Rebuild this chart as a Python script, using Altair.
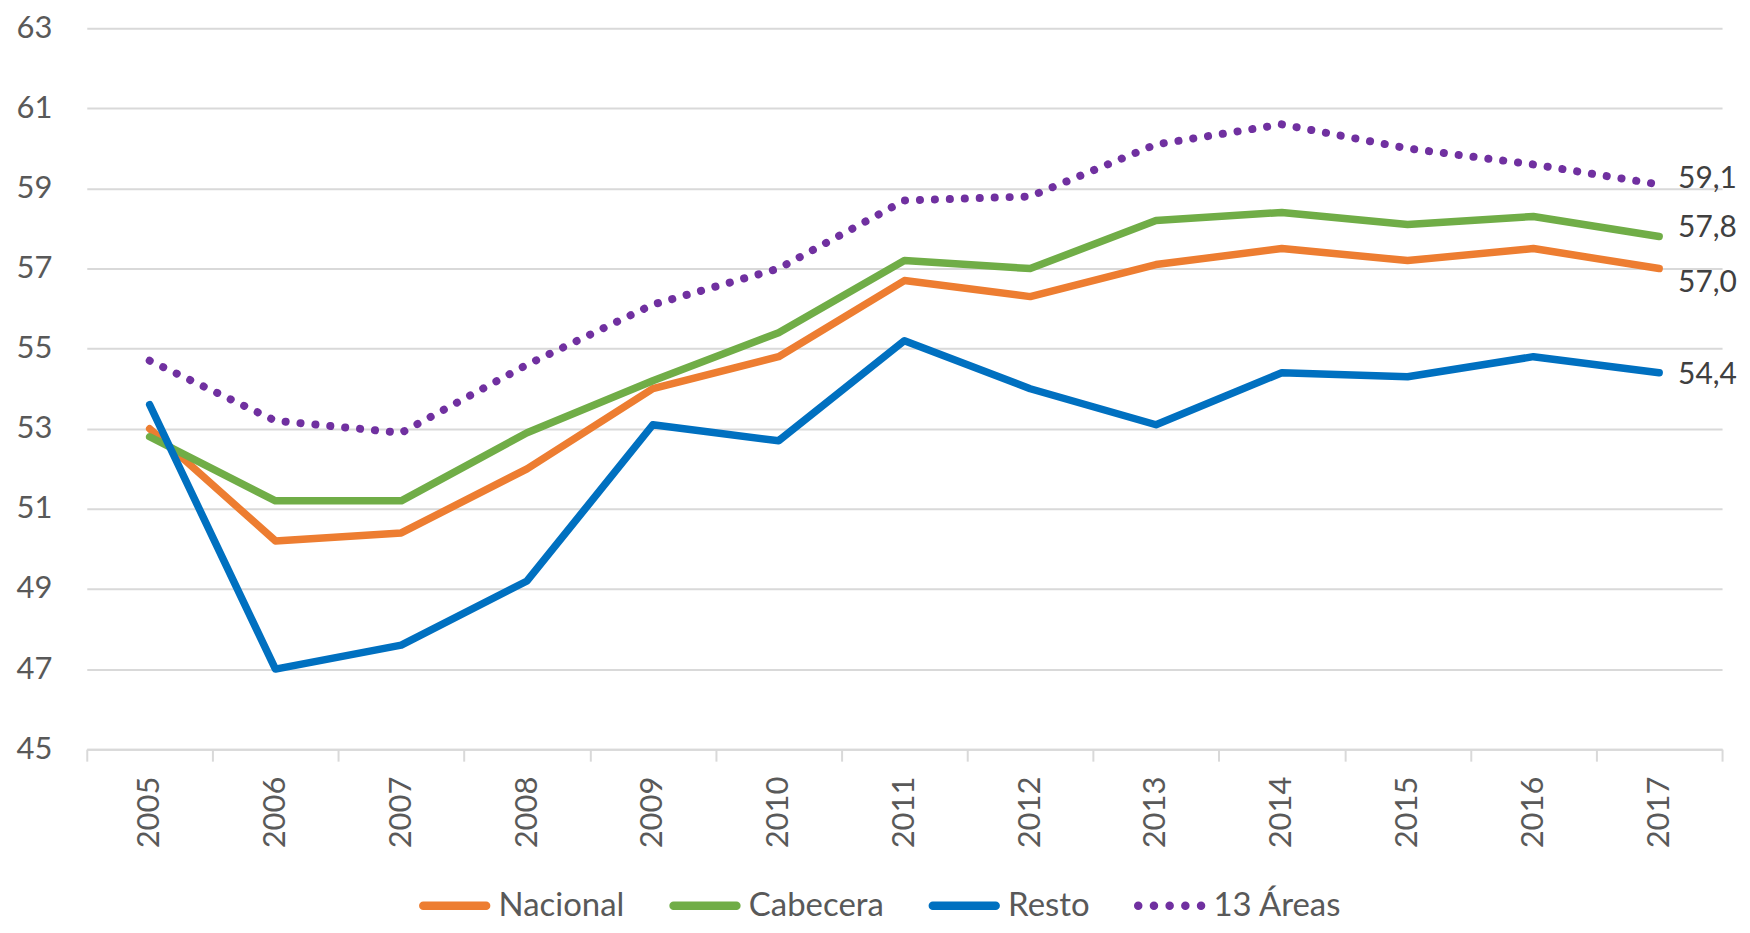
import altair as alt
import pandas as pd

# ---------------- data ----------------
years = [str(y) for y in range(2005, 2018)]
series_names = ["Nacional", "Cabecera", "Resto", "13 Áreas"]
nacional = [53.0, 50.2, 50.4, 52.0, 54.0, 54.8, 56.7, 56.3, 57.1, 57.5, 57.2, 57.5, 57.0]
cabecera = [52.8, 51.2, 51.2, 52.9, 54.2, 55.4, 57.2, 57.0, 58.2, 58.4, 58.1, 58.3, 57.8]
resto = [53.6, 47.0, 47.6, 49.2, 53.1, 52.7, 55.2, 54.0, 53.1, 54.4, 54.3, 54.8, 54.4]
areas13 = [54.7, 53.2, 52.9, 54.6, 56.1, 57.0, 58.7, 58.8, 60.1, 60.6, 60.0, 59.6, 59.1]
y_ticks = list(range(45, 64, 2))

values = {"Nacional": nacional, "Cabecera": cabecera, "Resto": resto, "13 Áreas": areas13}
rows = []
for s in series_names:
    for yr, v in zip(years, values[s]):
        rows.append({"year": yr, "series": s, "value": v})
df = pd.DataFrame(rows)

# ---------------- styles ----------------
colors = ["#ED7D31", "#70AD47", "#0070C0", "#7030A0"]
FONT = "Lato"
GRID = "#d9d9d9"
LABEL = "#595959"

solid_path = "M-0.9,-0.1H0.9A0.1,0.1,0,0,1,0.9,0.1H-0.9A0.1,0.1,0,0,1,-0.9,-0.1Z"
dot_path = " ".join(
    f"M{c-0.1:.2f},0A0.1,0.1,0,1,0,{c+0.1:.2f},0A0.1,0.1,0,1,0,{c-0.1:.2f},0Z"
    for c in [-0.9, -0.45, 0.0, 0.45, 0.9]
)
shapes = [solid_path, solid_path, solid_path, dot_path]

x_enc = alt.X(
    "year:O",
    scale=alt.Scale(type="band", paddingInner=0, paddingOuter=0, domain=years),
    axis=alt.Axis(
        title=None, labelAngle=270, tickBand="extent", grid=False,
        domainColor=GRID, domainWidth=2, tickColor=GRID, tickWidth=2, tickSize=12,
        labelPadding=15, labelFont=FONT, labelFontSize=31, labelColor=LABEL,
    ),
)
y_enc = alt.Y(
    "value:Q",
    scale=alt.Scale(domain=[45, 63], nice=False, zero=False),
    axis=alt.Axis(
        title=None, values=y_ticks, grid=True, gridColor=GRID, gridWidth=2,
        domain=False, ticks=False, tickSize=0, labelPadding=35,
        labelFont=FONT, labelFontSize=31, labelColor=LABEL,
    ),
)
color_scale = alt.Scale(domain=series_names, range=colors)

base = alt.Chart(df)

leg = alt.Legend(
    title=None, orient="none", legendX=333, legendY=844, direction="horizontal",
    symbolSize=4900, symbolOpacity=1,
    labelFont=FONT, labelFontSize=33, labelColor=LABEL, labelOffset=8,
    columnPadding=42, padding=0,
)
# legend-only layer (first, so its legend settings win): no marks drawn,
# the legend comes from the fixed scale domains
legend_layer = base.transform_filter("false").mark_point(filled=True).encode(
    x=x_enc, y=y_enc,
    color=alt.Color("series:N", scale=color_scale, legend=leg),
    shape=alt.Shape("series:N", scale=alt.Scale(domain=series_names, range=shapes), legend=leg),
)

solid = base.transform_filter(alt.datum.series != "13 Áreas").mark_line(
    strokeWidth=7.5, strokeCap="round", strokeJoin="round"
).encode(x=x_enc, y=y_enc, color=alt.Color("series:N", scale=color_scale))

dotted = base.transform_filter(alt.datum.series == "13 Áreas").mark_line(
    strokeWidth=8, strokeCap="round", strokeDash=[0.1, 14.9]
).encode(x=x_enc, y=y_enc, color=alt.Color("series:N", scale=color_scale))

label_dy = {"13 Áreas": -5, "Cabecera": -9, "Nacional": 14, "Resto": 2}
texts = []
for s in series_names:
    t = base.transform_filter(
        (alt.datum.series == s) & (alt.datum.year == years[-1])
    ).transform_calculate(
        lbl="replace(format(datum.value, '.1f'), '.', ',')"
    ).mark_text(
        align="left", baseline="middle", dx=19, dy=label_dy[s],
        font=FONT, fontSize=30, color="#404040",
    ).encode(x=x_enc, y=y_enc, text="lbl:N")
    texts.append(t)

chart = alt.layer(legend_layer, solid, dotted, *texts).properties(
    width=1640, height=723,
    autosize=alt.AutoSizeParams(type="none"),
    padding={"left": 79, "top": 19, "right": 20, "bottom": 172},
).configure_view(stroke=None)

chart.save("out.html", embed_options={"renderer": "svg", "actions": False})
